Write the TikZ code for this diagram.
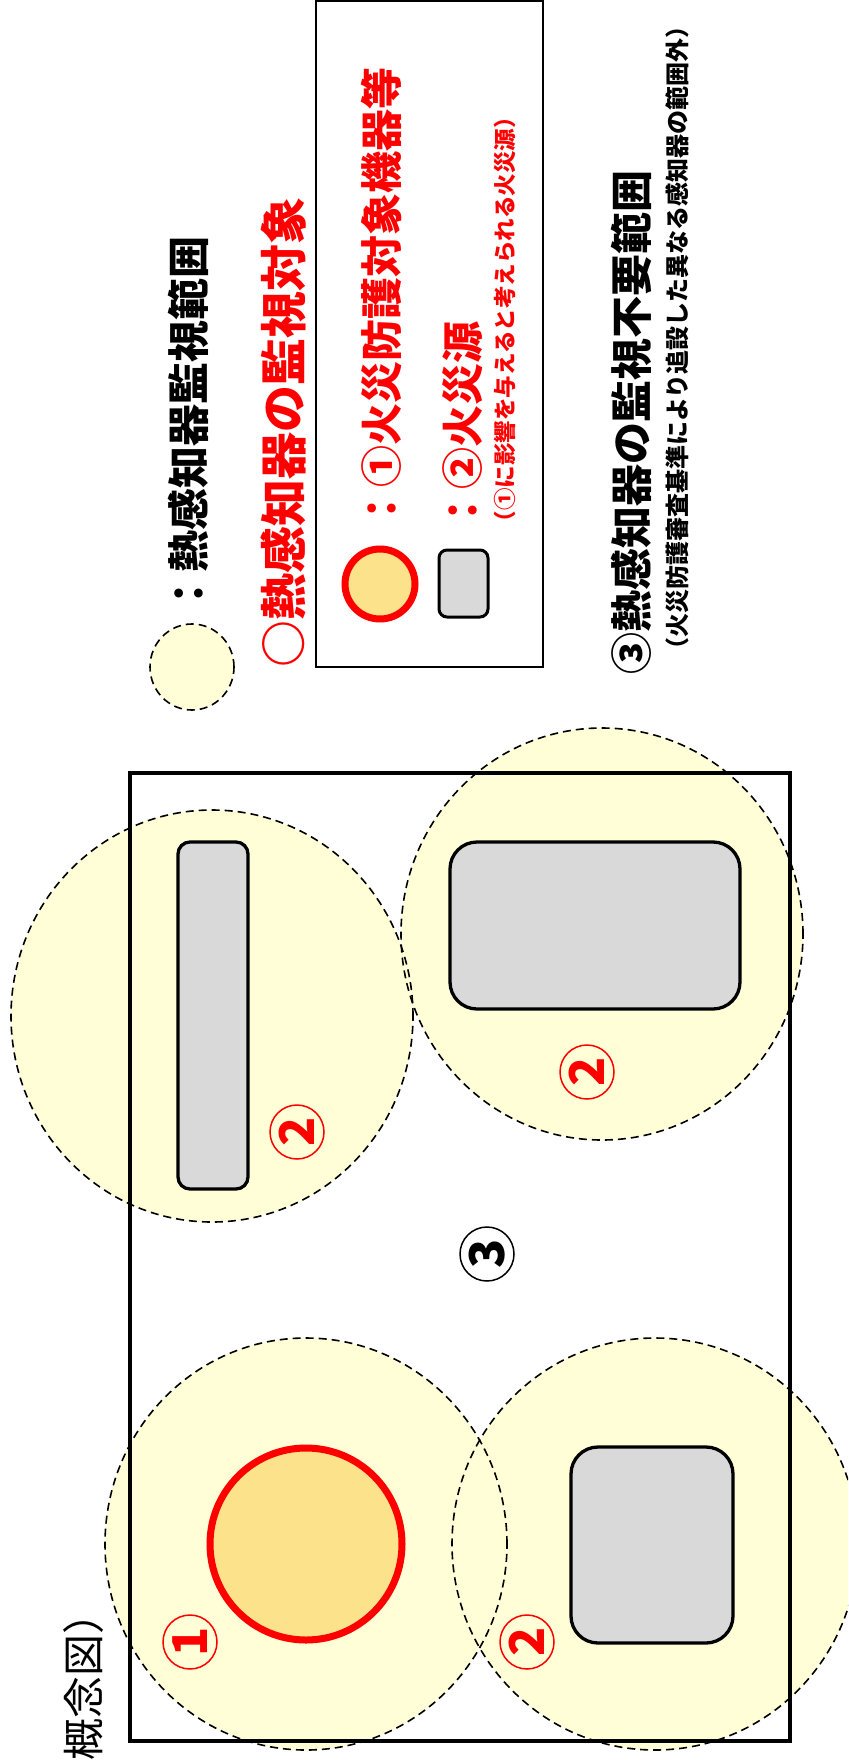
\documentclass[tikz,border=0pt]{standalone}
\usepackage{fontspec}
\newfontfamily\jpfont{Noto Sans CJK JP}
\definecolor{rangefill}{RGB}{255,254,214}
\definecolor{srcfill}{RGB}{217,217,217}
\definecolor{eqfill}{RGB}{253,226,140}
\definecolor{jred}{RGB}{255,0,0}

\begin{document}
\begin{tikzpicture}[x=1pt,y=-1pt,
	zonefill/.style={fill=rangefill},
	zoneedge/.style={draw=black,dash pattern=on 8pt off 5pt,line width=1.6pt},
	srcbox/.style={draw=black,fill=srcfill,line width=3.3pt,rounded corners=27pt},
	guardobj/.style={draw=jred,fill=eqfill,line width=7pt},
	vtext/.style={rotate=90,inner sep=0pt,anchor=east},
	sz42/.style={font=\jpfont\bfseries\fontsize{42pt}{42pt}\selectfont},
	sz47/.style={font=\jpfont\bfseries\fontsize{47pt}{47pt}\selectfont},
	sz24/.style={font=\jpfont\bfseries\fontsize{24pt}{24pt}\selectfont},
	sz22/.style={font=\jpfont\bfseries\fontsize{22.5pt}{22.5pt}\selectfont},
	titletext/.style={font=\jpfont\fontsize{42pt}{42pt}\selectfont},
	numlabel/.style={circle,draw=jred,text=jred,line width=1.5pt,minimum size=54pt,
		inner sep=0pt,rotate=90,font=\jpfont\bfseries\fontsize{48pt}{48pt}\selectfont}]
	
	\clip (0,0) rectangle (848,1760);
	
	\draw[zonefill,zoneedge] (192,667) ellipse [x radius=42pt,y radius=43pt];
	\node[vtext,sz42] (lgrange) at (188,236) {：熱感知器監視範囲};
	\node[vtext,sz47,text=jred] (lgtitle) at (283,197) {○熱感知器の監視対象};
	\draw[line width=2pt] (316,1) rectangle (543,667);
	\draw[guardobj] (380,584) circle [radius=35pt];
	\draw[srcbox,line width=3pt,rounded corners=8pt] (439,550) rectangle (488,617);
	\node[vtext,sz42,text=jred] (lgtarget) at (381,67) {：①火災防護対象機器等};
	\node[vtext,sz42,text=jred] (lgsource) at (463,321) {：②火災源};
	\node[vtext,sz22,text=jred] (lgnote) at (505,106) {（①に影響を与えると考えられる火災源）};
	\node[vtext,sz42] (lgfree) at (631,170) {③熱感知器の監視不要範囲};
	\node[vtext,sz24] (lgfreenote) at (677,14) {（火災防護審査基準により追設した異なる感知器の範囲外）};
	\node[vtext,titletext] (title) at (84,1592) {（概念図）};
	
	\fill[zonefill] (212,1016) ellipse [x radius=201pt,y radius=206pt];
	\fill[zonefill] (602,934) ellipse [x radius=201pt,y radius=206pt];
	\fill[zonefill] (306,1544) ellipse [x radius=201pt,y radius=206pt];
	\fill[zonefill] (655,1544) ellipse [x radius=203pt,y radius=206pt];
	\draw[line width=3.3pt] (130,773) rectangle (790,1741);
	\draw[zoneedge] (212,1016) ellipse [x radius=201pt,y radius=206pt];
	\draw[zoneedge] (602,934) ellipse [x radius=201pt,y radius=206pt];
	\draw[zoneedge] (306,1544) ellipse [x radius=201pt,y radius=206pt];
	\draw[zoneedge] (655,1544) ellipse [x radius=203pt,y radius=206pt];
	
	\draw[srcbox,rounded corners=12pt] (178,842) rectangle (248,1189);
	\draw[srcbox] (450,842) rectangle (740,1009);
	\draw[srcbox] (571,1447) rectangle (733,1643);
	\draw[guardobj] (306,1544) circle [radius=96pt];
	
	\node[numlabel] (m2a) at (297,1132) {2};
	\node[numlabel] (m2b) at (587,1072) {2};
	\node[numlabel,draw=black,text=black] (m3) at (487,1254) {3};
	\node[numlabel] (m1) at (190,1642) {1};
	\node[numlabel] (m2c) at (527,1642) {2};
\end{tikzpicture}
\end{document}
